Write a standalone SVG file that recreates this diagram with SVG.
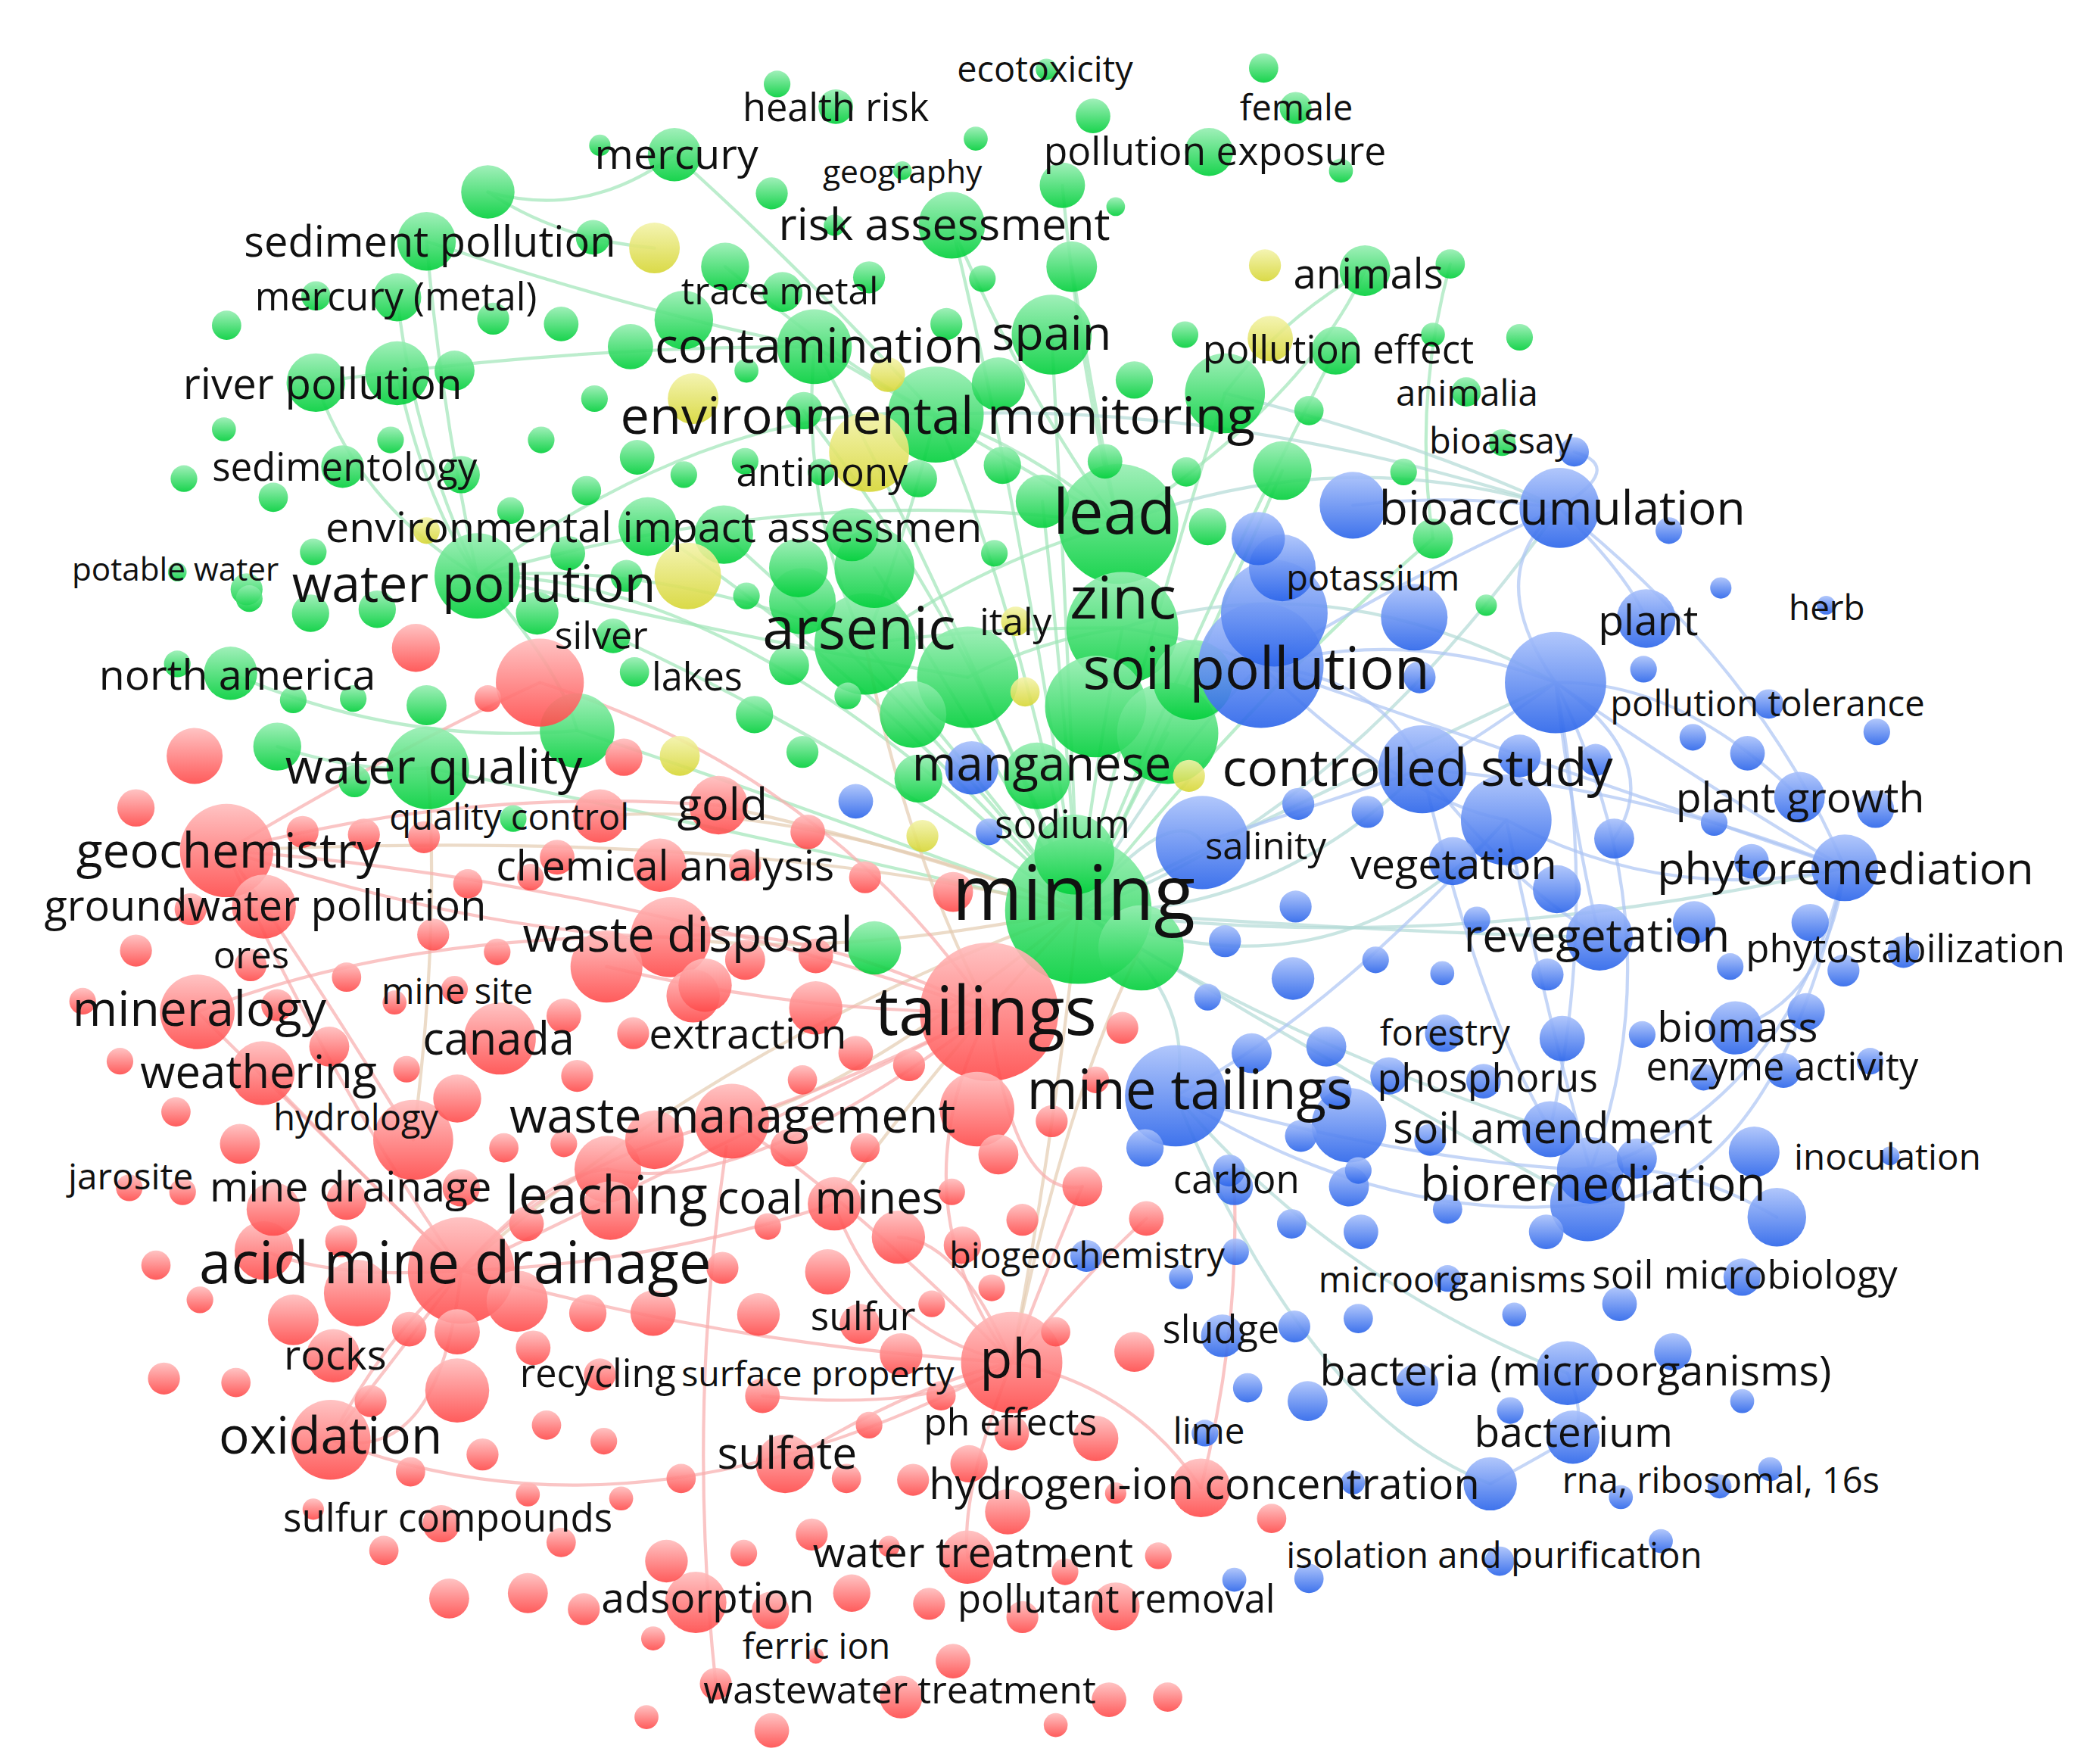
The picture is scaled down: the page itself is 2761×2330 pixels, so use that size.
<svg xmlns="http://www.w3.org/2000/svg" width="2761" height="2330" viewBox="0 0 2761 2330">
<defs>
<linearGradient id="gG" x1="0" y1="0" x2="0" y2="1"><stop offset="0" stop-color="#96eeb2"/><stop offset="1" stop-color="#00cf3a"/></linearGradient>
<linearGradient id="gR" x1="0" y1="0" x2="0" y2="1"><stop offset="0" stop-color="#ffbdbd"/><stop offset="1" stop-color="#ff4a4a"/></linearGradient>
<linearGradient id="gB" x1="0" y1="0" x2="0" y2="1"><stop offset="0" stop-color="#a9c1fb"/><stop offset="1" stop-color="#2a64ea"/></linearGradient>
<linearGradient id="gY" x1="0" y1="0" x2="0" y2="1"><stop offset="0" stop-color="#f3f3aa"/><stop offset="1" stop-color="#d6d634"/></linearGradient>
</defs>
<style>
.g circle{fill:url(#gG);fill-opacity:.9}
.r circle{fill:url(#gR);fill-opacity:.9}
.b circle{fill:url(#gB);fill-opacity:.9}
.y circle{fill:url(#gY);fill-opacity:.9}
#edges path{fill:none;stroke-width:2.4;stroke-opacity:.7;stroke-linecap:round}
.eg{stroke:#9fe6b8}.er{stroke:#f8acac}.eb{stroke:#adc4f4}.em{stroke:#b2dad6}.eo{stroke:#e4ccb0}
.t{font-family:"Open Sans","Noto Sans","DejaVu Sans",sans-serif;fill:#111;text-anchor:middle;dominant-baseline:middle}
</style>
<rect width="2761" height="2330" fill="#fff"/>
<g transform="scale(1.7609)">
<g id="edges">
<g class="eg">
<path d="M366,144 Q440,165 506,116"/><path d="M366,144 Q420,180 491,186"/><path d="M320,181 Q330,300 358,432"/><path d="M298,223 Q310,330 358,432"/><path d="M237,287 Q270,380 358,432"/><path d="M298,280 Q320,380 358,432"/><path d="M358,432 Q560,430 809,683"/><path d="M358,432 Q600,360 839,393"/><path d="M358,432 Q500,420 649,483"/><path d="M358,432 Q560,480 726,508"/><path d="M702,311 Q760,440 809,683"/><path d="M611,260 Q700,420 809,683"/><path d="M714,169 Q770,400 809,683"/><path d="M797,139 Q810,280 839,393"/><path d="M714,169 Q770,300 839,393"/><path d="M919,295 Q860,480 809,683"/><path d="M1024,203 Q960,240 919,295"/><path d="M1088,198 Q1060,300 1075,404"/><path d="M1075,404 Q940,520 809,683"/><path d="M649,483 Q740,590 809,683"/><path d="M842,471 Q820,580 809,683"/><path d="M433,548 Q620,610 809,683"/><path d="M173,505 Q300,560 433,548"/><path d="M486,395 Q650,500 809,683"/><path d="M543,401 Q690,530 809,683"/><path d="M603,308 Q730,470 809,683"/><path d="M962,353 Q890,520 809,683"/><path d="M544,200 Q640,280 702,311"/><path d="M506,116 Q600,200 702,311"/><path d="M702,311 Q780,340 839,393"/><path d="M611,260 Q730,330 839,393"/><path d="M321,576 Q540,620 809,683"/><path d="M460,477 Q640,560 809,683"/><path d="M782,376 Q800,540 809,683"/><path d="M656,426 Q740,560 809,683"/><path d="M358,432 Q420,500 433,548"/><path d="M208,560 Q270,580 321,576"/><path d="M237,287 Q420,260 611,260"/><path d="M839,393 Q980,300 1024,203"/><path d="M649,483 Q740,420 839,393"/><path d="M649,483 Q740,470 842,471"/><path d="M702,311 Q680,400 649,483"/><path d="M611,260 Q600,380 649,483"/><path d="M789,251 Q800,460 809,683"/><path d="M804,200 Q820,300 839,393"/><path d="M358,432 Q540,300 702,311"/><path d="M320,181 Q500,240 611,260"/><path d="M726,508 Q780,480 842,471"/><path d="M876,550 Q840,620 809,683"/><path d="M1002,263 Q900,460 809,683"/>
</g>
<g class="em">
<path d="M809,683 Q950,690 1067,577"/><path d="M809,683 Q1000,620 1170,381"/><path d="M809,683 Q1080,720 1384,651"/><path d="M809,683 Q960,780 1163,847"/><path d="M809,683 Q1000,590 1167,512"/><path d="M702,311 Q920,300 1170,381"/><path d="M839,393 Q1000,330 1170,381"/><path d="M946,499 Q880,560 809,683"/><path d="M842,471 Q1000,420 1167,512"/><path d="M809,683 Q900,740 882,822"/><path d="M882,822 Q1000,960 1176,1030"/><path d="M882,822 Q980,1060 1118,1113"/><path d="M809,683 Q1050,700 1200,703"/><path d="M919,295 Q1060,330 1170,381"/><path d="M809,683 Q880,600 902,632"/><path d="M842,471 Q900,480 946,499"/><path d="M809,683 Q1000,760 1130,615"/><path d="M809,683 Q1000,800 1191,903"/>
</g>
<g class="eo">
<path d="M809,683 Q620,720 503,703"/><path d="M809,683 Q700,640 539,604"/><path d="M809,683 Q790,860 759,1022"/><path d="M809,683 Q540,780 346,953"/><path d="M321,576 Q330,700 310,855"/><path d="M809,683 Q640,820 549,841"/><path d="M809,683 Q600,600 450,612"/><path d="M809,683 Q560,620 170,638"/><path d="M759,1022 Q800,820 856,711"/><path d="M649,483 Q680,640 742,759"/><path d="M809,683 Q700,800 626,903"/>
</g>
<g class="er">
<path d="M346,953 Q240,800 170,638"/><path d="M346,953 Q520,870 742,759"/><path d="M346,953 Q550,1010 759,1022"/><path d="M346,953 Q280,1040 248,1080"/><path d="M742,759 Q670,900 759,1022"/><path d="M742,759 Q600,690 503,703"/><path d="M742,759 Q640,810 549,841"/><path d="M742,759 Q460,660 170,638"/><path d="M170,638 Q350,590 539,604"/><path d="M170,638 Q360,700 503,703"/><path d="M248,1080 Q480,1170 759,1022"/><path d="M759,1022 Q850,1040 901,1116"/><path d="M759,1022 Q660,1000 626,903"/><path d="M759,1022 Q790,940 812,890"/><path d="M759,1022 Q720,930 674,928"/><path d="M759,1022 Q820,950 860,914"/><path d="M545,860 Q515,1060 537,1263"/><path d="M901,1116 Q930,1000 926,890"/><path d="M170,638 Q240,740 310,855"/><path d="M405,512 Q620,580 742,759"/><path d="M346,953 Q410,880 456,877"/><path d="M549,841 Q420,870 346,953"/><path d="M148,759 Q240,850 346,953"/><path d="M197,805 Q280,890 346,953"/><path d="M589,1098 Q680,1040 759,1022"/><path d="M248,1080 Q290,1000 346,953"/><path d="M405,512 Q300,560 170,638"/><path d="M346,953 Q250,960 198,938"/><path d="M346,953 Q480,950 626,903"/><path d="M759,1022 Q720,1120 726,1168"/><path d="M742,759 Q560,900 456,877"/><path d="M759,1022 Q700,1060 572,1047"/><path d="M148,759 Q300,700 503,703"/><path d="M742,759 Q760,900 812,890"/><path d="M346,953 Q330,1100 248,1080"/><path d="M742,759 Q600,760 455,725"/><path d="M549,841 Q640,900 759,1022"/>
</g>
<g class="eb">
<path d="M1167,512 Q1110,430 1170,381"/><path d="M1167,512 Q1280,590 1384,651"/><path d="M1170,381 Q1320,500 1384,651"/><path d="M1067,577 Q1230,590 1384,651"/><path d="M1167,512 Q1260,700 1193,878"/><path d="M1130,615 Q1160,760 1193,878"/><path d="M946,499 Q1060,470 1167,512"/><path d="M946,499 Q1120,560 1384,651"/><path d="M882,822 Q1000,760 1130,615"/><path d="M882,822 Q1050,870 1193,878"/><path d="M1170,381 Q1220,430 1235,464"/><path d="M1167,512 Q1260,510 1350,598"/><path d="M1384,651 Q1370,750 1302,771"/><path d="M1167,512 Q1200,680 1163,847"/><path d="M1176,1030 Q1190,1060 1180,1078"/><path d="M1118,1113 Q1160,1090 1180,1078"/><path d="M1170,381 Q1090,370 1015,379"/><path d="M946,499 Q1040,510 1067,577"/><path d="M1384,651 Q1340,830 1193,878"/><path d="M1067,577 Q1110,760 1163,847"/><path d="M1167,512 Q1250,570 1211,629"/><path d="M1333,913 Q1260,870 1193,878"/><path d="M1170,381 Q1220,350 1181,339"/><path d="M1167,512 Q1180,620 1200,703"/><path d="M1067,577 Q1130,660 1200,703"/><path d="M882,822 Q1040,920 1191,903"/><path d="M946,499 Q1060,430 1170,381"/><path d="M1130,615 Q1250,680 1384,651"/><path d="M1384,651 Q1330,900 1191,903"/><path d="M946,499 Q1050,600 1130,615"/><path d="M1067,577 Q1100,560 1167,512"/><path d="M902,632 Q1000,600 1067,577"/>
</g>
</g>
<g id="nodes">
<g class="g">
<g id="n-mining"><circle cx="809" cy="683" r="55"/></g>
<g id="n-lead"><circle cx="839" cy="393" r="45"/></g>
<g id="n-zinc"><circle cx="842" cy="471" r="42"/></g>
<g id="n-arsenic"><circle cx="649" cy="483" r="38"/></g>
<circle cx="726" cy="508" r="38"/><circle cx="822" cy="530" r="38"/><circle cx="876" cy="550" r="38"/>
<g id="n-environmental-monitoring"><circle cx="702" cy="311" r="36"/></g>
<g id="n-water-pollution"><circle cx="358" cy="432" r="32"/></g>
<g id="n-water-quality"><circle cx="321" cy="576" r="31"/></g>
<circle cx="856" cy="711" r="32"/><circle cx="806" cy="641" r="30"/><circle cx="919" cy="295" r="30"/>
<g id="n-spain"><circle cx="789" cy="251" r="30"/></g>
<circle cx="895" cy="510" r="30"/>
<g id="n-contamination"><circle cx="611" cy="260" r="28"/></g>
<circle cx="433" cy="548" r="28"/><circle cx="656" cy="426" r="30"/><circle cx="685" cy="536" r="25"/>
<g id="n-risk-assessment"><circle cx="714" cy="169" r="25"/></g>
<circle cx="602" cy="451" r="25"/><circle cx="778" cy="582" r="25"/><circle cx="298" cy="280" r="24"/>
<g id="n-river-pollution"><circle cx="237" cy="287" r="22"/></g>
<g id="n-sediment-pollution"><circle cx="320" cy="181" r="22"/></g>
<circle cx="513" cy="240" r="22"/>
<g id="n-environmental-impact-assessment"><circle cx="486" cy="395" r="22"/></g>
<circle cx="962" cy="353" r="22"/><circle cx="543" cy="401" r="22"/><circle cx="599" cy="426" r="22"/>
<g id="n-mercury"><circle cx="506" cy="116" r="20"/></g>
<circle cx="366" cy="144" r="20"/>
<g id="n-north-america"><circle cx="173" cy="505" r="20"/></g>
<circle cx="782" cy="376" r="20"/><circle cx="749" cy="288" r="20"/><circle cx="639" cy="401" r="20"/><circle cx="656" cy="711" r="20"/><circle cx="804" cy="200" r="19"/>
<g id="n-animals"><circle cx="1024" cy="203" r="19"/></g>
<circle cx="689" cy="584" r="18"/>
<g id="n-pollution-exposure"><circle cx="907" cy="114" r="18"/></g>
<g id="n-mercury-metal"><circle cx="298" cy="223" r="18"/></g>
<circle cx="208" cy="560" r="18"/><circle cx="544" cy="200" r="18"/>
<g id="n-pollution-effect"><circle cx="1002" cy="263" r="18"/></g>
<circle cx="797" cy="139" r="17"/><circle cx="473" cy="260" r="17"/>
<g id="n-trace-metal"><circle cx="587" cy="219" r="15"/></g>
<circle cx="341" cy="278" r="15"/><circle cx="320" cy="529" r="15"/><circle cx="592" cy="499" r="15"/><circle cx="1075" cy="404" r="15"/>
<g id="n-sedimentology"><circle cx="257" cy="350" r="16"/></g>
<circle cx="403" cy="460" r="16"/><circle cx="233" cy="460" r="14"/><circle cx="283" cy="457" r="14"/><circle cx="346" cy="356" r="14"/><circle cx="603" cy="308" r="14"/><circle cx="566" cy="536" r="14"/><circle cx="689" cy="359" r="14"/><circle cx="752" cy="349" r="14"/><circle cx="851" cy="285" r="14"/><circle cx="906" cy="395" r="14"/>
<g id="n-health-risk"><circle cx="627" cy="80" r="13"/></g>
<circle cx="820" cy="87" r="13"/><circle cx="421" cy="243" r="13"/><circle cx="445" cy="178" r="13"/><circle cx="478" cy="343" r="13"/><circle cx="426" cy="415" r="13"/>
<g id="n-silver"><circle cx="460" cy="477" r="13"/></g>
<circle cx="829" cy="346" r="13"/><circle cx="579" cy="145" r="12"/><circle cx="652" cy="208" r="12"/><circle cx="370" cy="239" r="12"/><circle cx="710" cy="243" r="12"/>
<g id="n-female"><circle cx="972" cy="81" r="12"/></g>
<circle cx="602" cy="564" r="12"/><circle cx="185" cy="442" r="12"/><circle cx="266" cy="586" r="12"/><circle cx="470" cy="432" r="12"/><circle cx="170" cy="244" r="11"/><circle cx="237" cy="222" r="11"/><circle cx="205" cy="373" r="11"/><circle cx="440" cy="368" r="11"/><circle cx="890" cy="354" r="11"/><circle cx="982" cy="308" r="11"/><circle cx="1088" cy="198" r="11"/>
<g id="n-animalia"><circle cx="1100" cy="294" r="11"/></g>
<circle cx="948" cy="51" r="11"/>
<g id="n-lakes"><circle cx="476" cy="504" r="11"/></g>
<circle cx="583" cy="63" r="10"/><circle cx="636" cy="522" r="10"/><circle cx="737" cy="209" r="10"/><circle cx="889" cy="251" r="10"/><circle cx="446" cy="299" r="10"/><circle cx="293" cy="330" r="10"/><circle cx="406" cy="330" r="10"/><circle cx="138" cy="359" r="10"/><circle cx="383" cy="383" r="10"/><circle cx="513" cy="356" r="10"/><circle cx="235" cy="414" r="10"/><circle cx="133" cy="498" r="10"/><circle cx="220" cy="525" r="10"/><circle cx="265" cy="524" r="10"/><circle cx="187" cy="449" r="10"/>
<g id="n-bioassay"><circle cx="1127" cy="332" r="10"/></g>
<circle cx="1140" cy="253" r="10"/><circle cx="1053" cy="354" r="10"/>
<g id="n-antimony"><circle cx="616" cy="354" r="10"/></g>
<g id="n-quality-control"><circle cx="385" cy="614" r="10"/></g>
<circle cx="560" cy="447" r="10"/><circle cx="560" cy="278" r="9"/><circle cx="559" cy="346" r="10"/><circle cx="746" cy="415" r="10"/><circle cx="168" cy="322" r="9"/><circle cx="450" cy="109" r="8"/><circle cx="732" cy="104" r="9"/><circle cx="1075" cy="251" r="9"/><circle cx="1006" cy="128" r="9"/><circle cx="1115" cy="454" r="8"/><circle cx="626" cy="169" r="8"/>
<g id="n-ecotoxicity"><circle cx="785" cy="52" r="8"/></g>
<circle cx="837" cy="155" r="7"/>
<g id="n-potable-water"><circle cx="133" cy="429" r="7"/></g>
<g id="n-geography"><circle cx="677" cy="128" r="7"/></g>
</g>
<g class="y">
<circle cx="652" cy="339" r="30"/><circle cx="516" cy="432" r="25"/><circle cx="491" cy="186" r="19"/><circle cx="520" cy="299" r="19"/><circle cx="953" cy="254" r="17"/><circle cx="666" cy="281" r="13"/><circle cx="510" cy="567" r="15"/><circle cx="949" cy="199" r="12"/>
<g id="n-italy"><circle cx="762" cy="466" r="11"/></g>
<circle cx="769" cy="519" r="11"/><circle cx="892" cy="582" r="12"/><circle cx="692" cy="627" r="12"/><circle cx="320" cy="398" r="10"/>
</g>
<g class="r">
<g id="n-tailings"><circle cx="742" cy="759" r="52"/></g>
<g id="n-acid-mine-drainage"><circle cx="346" cy="953" r="40"/></g>
<g id="n-ph"><circle cx="759" cy="1022" r="38"/></g>
<g id="n-geochemistry"><circle cx="170" cy="638" r="35"/></g>
<circle cx="405" cy="512" r="33"/>
<g id="n-waste-disposal"><circle cx="503" cy="703" r="30"/></g>
<g id="n-oxidation"><circle cx="248" cy="1080" r="30"/></g>
<circle cx="310" cy="855" r="30"/>
<g id="n-mineralogy"><circle cx="148" cy="759" r="28"/></g>
<g id="n-waste-management"><circle cx="549" cy="841" r="28"/></g>
<circle cx="733" cy="832" r="28"/>
<g id="n-canada"><circle cx="375" cy="779" r="27"/></g>
<circle cx="455" cy="725" r="27"/><circle cx="268" cy="970" r="25"/>
<g id="n-leaching"><circle cx="456" cy="877" r="25"/></g>
<g id="n-weathering"><circle cx="197" cy="805" r="24"/></g>
<circle cx="198" cy="680" r="24"/><circle cx="343" cy="1043" r="24"/><circle cx="388" cy="976" r="23"/>
<g id="n-adsorption"><circle cx="522" cy="1202" r="23"/></g>
<g id="n-gold"><circle cx="539" cy="604" r="22"/></g>
<circle cx="491" cy="855" r="22"/><circle cx="458" cy="908" r="22"/><circle cx="198" cy="938" r="22"/>
<g id="n-sulfate"><circle cx="589" cy="1098" r="22"/></g>
<g id="n-hydrogen-ion-concentration"><circle cx="901" cy="1116" r="22"/></g>
<circle cx="146" cy="567" r="21"/><circle cx="520" cy="747" r="20"/><circle cx="529" cy="739" r="20"/><circle cx="612" cy="756" r="20"/>
<g id="n-coal-mines"><circle cx="626" cy="903" r="20"/></g>
<circle cx="674" cy="928" r="20"/><circle cx="205" cy="907" r="20"/>
<g id="n-rocks"><circle cx="250" cy="1017" r="20"/></g>
<circle cx="450" cy="612" r="20"/><circle cx="495" cy="649" r="20"/>
<g id="n-water-treatment"><circle cx="726" cy="1168" r="20"/></g>
<circle cx="220" cy="990" r="19"/><circle cx="312" cy="486" r="18"/><circle cx="837" cy="1205" r="18"/><circle cx="343" cy="824" r="18"/><circle cx="822" cy="1079" r="17"/><circle cx="756" cy="1134" r="17"/><circle cx="490" cy="985" r="17"/><circle cx="343" cy="999" r="17"/><circle cx="621" cy="954" r="17"/><circle cx="676" cy="1016" r="16"/><circle cx="569" cy="986" r="16"/><circle cx="676" cy="1273" r="16"/><circle cx="500" cy="1171" r="16"/><circle cx="260" cy="900" r="15"/><circle cx="180" cy="858" r="15"/><circle cx="247" cy="785" r="15"/><circle cx="559" cy="720" r="15"/><circle cx="812" cy="890" r="15"/><circle cx="645" cy="993" r="15"/><circle cx="851" cy="1014" r="15"/><circle cx="749" cy="866" r="15"/><circle cx="337" cy="1199" r="15"/><circle cx="396" cy="1195" r="15"/><circle cx="715" cy="669" r="15"/><circle cx="346" cy="891" r="14"/><circle cx="468" cy="568" r="14"/><circle cx="102" cy="606" r="14"/><circle cx="441" cy="985" r="14"/><circle cx="592" cy="861" r="14"/><circle cx="722" cy="934" r="14"/><circle cx="727" cy="1098" r="14"/><circle cx="639" cy="1195" r="14"/><circle cx="578" cy="1208" r="14"/><circle cx="331" cy="1143" r="14"/><circle cx="418" cy="643" r="13"/><circle cx="423" cy="762" r="13"/><circle cx="606" cy="624" r="13"/><circle cx="612" cy="717" r="13"/><circle cx="642" cy="790" r="13"/><circle cx="860" cy="914" r="13"/><circle cx="395" cy="918" r="13"/><circle cx="307" cy="997" r="13"/><circle cx="400" cy="1011" r="13"/><circle cx="572" cy="1047" r="13"/><circle cx="759" cy="1075" r="13"/><circle cx="715" cy="1246" r="13"/><circle cx="832" cy="1275" r="13"/><circle cx="579" cy="1298" r="13"/><circle cx="227" cy="624" r="12"/><circle cx="273" cy="626" r="12"/><circle cx="318" cy="628" r="12"/><circle cx="325" cy="701" r="12"/><circle cx="143" cy="682" r="12"/><circle cx="102" cy="713" r="12"/>
<g id="n-ores"><circle cx="188" cy="724" r="12"/></g>
<circle cx="208" cy="754" r="12"/><circle cx="433" cy="807" r="12"/><circle cx="475" cy="775" r="12"/><circle cx="842" cy="771" r="12"/><circle cx="682" cy="799" r="12"/><circle cx="789" cy="841" r="12"/><circle cx="559" cy="649" r="12"/><circle cx="649" cy="658" r="12"/><circle cx="256" cy="931" r="12"/><circle cx="542" cy="951" r="12"/><circle cx="767" cy="915" r="12"/><circle cx="450" cy="1031" r="12"/><circle cx="123" cy="1034" r="12"/><circle cx="278" cy="1051" r="12"/><circle cx="362" cy="1091" r="12"/><circle cx="685" cy="1110" r="12"/><circle cx="609" cy="1151" r="12"/><circle cx="697" cy="1203" r="12"/><circle cx="767" cy="1213" r="12"/><circle cx="537" cy="1263" r="12"/><circle cx="438" cy="1207" r="12"/><circle cx="351" cy="663" r="11"/><circle cx="260" cy="733" r="11"/><circle cx="132" cy="834" r="11"/><circle cx="378" cy="861" r="11"/><circle cx="649" cy="861" r="11"/><circle cx="602" cy="810" r="11"/><circle cx="706" cy="1047" r="11"/><circle cx="635" cy="1109" r="11"/><circle cx="792" cy="999" r="11"/><circle cx="954" cy="1139" r="11"/><circle cx="117" cy="949" r="11"/><circle cx="177" cy="1037" r="11"/><circle cx="410" cy="1069" r="11"/><circle cx="308" cy="1104" r="11"/><circle cx="511" cy="1109" r="11"/><circle cx="288" cy="1163" r="11"/><circle cx="421" cy="1157" r="11"/><circle cx="876" cy="1273" r="11"/><circle cx="373" cy="714" r="10"/><circle cx="366" cy="524" r="10"/><circle cx="398" cy="658" r="10"/>
<g id="n-mine-site"><circle cx="341" cy="742" r="10"/></g>
<circle cx="62" cy="751" r="10"/><circle cx="90" cy="796" r="10"/><circle cx="305" cy="802" r="10"/><circle cx="423" cy="858" r="10"/><circle cx="714" cy="894" r="10"/><circle cx="822" cy="810" r="10"/>
<g id="n-jarosite"><circle cx="97" cy="891" r="10"/></g>
<circle cx="137" cy="894" r="10"/><circle cx="576" cy="920" r="10"/><circle cx="744" cy="966" r="10"/><circle cx="699" cy="978" r="10"/><circle cx="652" cy="1069" r="10"/><circle cx="453" cy="1081" r="10"/><circle cx="150" cy="975" r="10"/><circle cx="558" cy="1165" r="10"/><circle cx="799" cy="1179" r="10"/><circle cx="869" cy="1167" r="10"/><circle cx="296" cy="752" r="9"/><circle cx="396" cy="1121" r="9"/><circle cx="466" cy="1124" r="9"/><circle cx="490" cy="1229" r="9"/><circle cx="485" cy="1288" r="9"/><circle cx="792" cy="1294" r="9"/><circle cx="837" cy="1120" r="8"/><circle cx="667" cy="1160" r="8"/><circle cx="235" cy="1132" r="8"/>
<g id="n-ferric-ion"><circle cx="612" cy="1242" r="6"/></g>
</g>
<g class="b">
<g id="n-soil-pollution"><circle cx="946" cy="499" r="47"/></g>
<circle cx="956" cy="460" r="40"/><circle cx="1167" cy="512" r="38"/>
<g id="n-mine-tailings"><circle cx="882" cy="822" r="38"/></g>
<g id="n-salinity"><circle cx="902" cy="632" r="35"/></g>
<circle cx="1130" cy="615" r="34"/>
<g id="n-controlled-study"><circle cx="1067" cy="577" r="33"/></g>
<g id="n-bioaccumulation"><circle cx="1170" cy="381" r="30"/></g>
<g id="n-bioremediation"><circle cx="1191" cy="903" r="28"/></g>
<circle cx="1012" cy="844" r="28"/><circle cx="1015" cy="379" r="25"/><circle cx="962" cy="426" r="25"/><circle cx="1061" cy="463" r="25"/>
<g id="n-phytoremediation"><circle cx="1384" cy="651" r="25"/></g>
<g id="n-revegetation"><circle cx="1200" cy="703" r="25"/></g>
<circle cx="1193" cy="878" r="25"/>
<g id="n-bacteria-microorganisms"><circle cx="1176" cy="1030" r="24"/></g>
<g id="n-plant"><circle cx="1235" cy="464" r="22"/></g>
<circle cx="1333" cy="913" r="22"/>
<g id="n-soil-amendment"><circle cx="1163" cy="847" r="21"/></g>
<circle cx="944" cy="404" r="20"/>
<g id="n-manganese"><circle cx="729" cy="576" r="20"/></g>
<g id="n-biomass"><circle cx="1302" cy="771" r="20"/></g>
<g id="n-bacterium"><circle cx="1180" cy="1078" r="20"/></g>
<circle cx="1118" cy="1113" r="20"/>
<g id="n-plant-growth"><circle cx="1350" cy="598" r="19"/></g>
<circle cx="1316" cy="864" r="19"/>
<g id="n-vegetation"><circle cx="1090" cy="646" r="18"/></g>
<circle cx="1168" cy="667" r="18"/><circle cx="1172" cy="779" r="17"/><circle cx="1140" cy="567" r="16"/><circle cx="970" cy="734" r="16"/><circle cx="1271" cy="692" r="16"/>
<g id="n-sludge"><circle cx="917" cy="1002" r="16"/></g>
<circle cx="1063" cy="1039" r="16"/><circle cx="939" cy="790" r="15"/><circle cx="995" cy="785" r="15"/><circle cx="1211" cy="629" r="15"/><circle cx="1012" cy="890" r="15"/><circle cx="981" cy="1051" r="15"/><circle cx="1228" cy="869" r="15"/><circle cx="1407" cy="607" r="14"/><circle cx="1042" cy="807" r="14"/><circle cx="1358" cy="692" r="14"/><circle cx="1355" cy="759" r="14"/>
<g id="n-forestry"><circle cx="1083" cy="775" r="14"/></g>
<g id="n-carbon"><circle cx="926" cy="890" r="14"/></g>
<circle cx="859" cy="861" r="14"/>
<g id="n-soil-microbiology"><circle cx="1307" cy="958" r="14"/></g>
<circle cx="1255" cy="1014" r="14"/><circle cx="642" cy="601" r="13"/><circle cx="1311" cy="565" r="13"/><circle cx="1314" cy="646" r="13"/>
<g id="n-phosphorus"><circle cx="1113" cy="811" r="13"/></g>
<g id="n-enzyme-activity"><circle cx="1338" cy="803" r="13"/></g>
<circle cx="1160" cy="924" r="13"/><circle cx="1215" cy="978" r="13"/><circle cx="1021" cy="924" r="13"/><circle cx="974" cy="603" r="12"/><circle cx="1026" cy="609" r="12"/><circle cx="972" cy="680" r="12"/><circle cx="919" cy="706" r="12"/><circle cx="1002" cy="819" r="12"/><circle cx="976" cy="852" r="12"/><circle cx="922" cy="878" r="12"/><circle cx="1065" cy="508" r="12"/><circle cx="1197" cy="570" r="12"/><circle cx="1161" cy="731" r="12"/>
<g id="n-phytostabilization"><circle cx="1383" cy="728" r="12"/></g>
<circle cx="1428" cy="714" r="12"/><circle cx="1073" cy="855" r="12"/>
<g id="n-biogeochemistry"><circle cx="815" cy="942" r="12"/></g>
<circle cx="1019" cy="989" r="11"/><circle cx="971" cy="995" r="12"/>
<g id="n-pollution-tolerance"><circle cx="1327" cy="528" r="11"/></g>
<circle cx="1181" cy="339" r="11"/><circle cx="969" cy="918" r="11"/><circle cx="936" cy="1041" r="11"/><circle cx="1086" cy="907" r="11"/>
<g id="n-isolation-and-purification"><circle cx="1125" cy="1171" r="11"/></g>
<circle cx="982" cy="1184" r="11"/><circle cx="1252" cy="398" r="10"/><circle cx="1270" cy="553" r="10"/><circle cx="1408" cy="549" r="10"/><circle cx="1286" cy="617" r="10"/><circle cx="1108" cy="690" r="10"/><circle cx="1298" cy="725" r="10"/><circle cx="1032" cy="720" r="10"/><circle cx="906" cy="748" r="10"/><circle cx="1233" cy="502" r="10"/><circle cx="1232" cy="776" r="10"/><circle cx="1278" cy="808" r="10"/><circle cx="1403" cy="796" r="10"/>
<g id="n-microorganisms"><circle cx="1086" cy="959" r="10"/></g>
<circle cx="927" cy="939" r="10"/><circle cx="1019" cy="878" r="10"/>
<g id="n-lime"><circle cx="904" cy="1075" r="10"/></g>
<circle cx="1133" cy="1058" r="10"/>
<g id="n-sodium"><circle cx="742" cy="624" r="10"/></g>
<circle cx="1082" cy="730" r="9"/><circle cx="886" cy="958" r="9"/><circle cx="1136" cy="986" r="9"/><circle cx="1307" cy="1051" r="9"/>
<g id="n-rna-ribosomal-16s"><circle cx="1216" cy="1123" r="9"/></g>
<circle cx="1290" cy="1115" r="9"/><circle cx="1328" cy="1102" r="9"/><circle cx="1246" cy="1156" r="9"/><circle cx="1015" cy="1112" r="9"/><circle cx="926" cy="1185" r="9"/><circle cx="1291" cy="441" r="8"/>
<g id="n-herb"><circle cx="1370" cy="454" r="7"/></g>
<g id="n-inoculation"><circle cx="1418" cy="867" r="7"/></g>
</g>
</g>
<g id="labels" transform="translate(0,3)">
<text class="t" x="784" y="51" font-size="26.6">ecotoxicity</text>
<text class="t" x="627" y="80" font-size="28.7">health risk</text>
<text class="t" x="972.5" y="80" font-size="26.6">female</text>
<text class="t" x="507.5" y="115" font-size="31.5">mercury</text>
<text class="t" x="677" y="128" font-size="24.2">geography</text>
<text class="t" x="911.5" y="113" font-size="29.3">pollution exposure</text>
<text class="t" x="708.5" y="168" font-size="33.6">risk assessment</text>
<text class="t" x="322.5" y="181" font-size="31.8">sediment pollution</text>
<text class="t" x="1026.5" y="205" font-size="31">animals</text>
<text class="t" x="297" y="222" font-size="28.6">mercury (metal)</text>
<text class="t" x="585" y="218" font-size="28.1">trace metal</text>
<text class="t" x="614.5" y="259" font-size="36.4">contamination</text>
<text class="t" x="789" y="250" font-size="35.8">spain</text>
<text class="t" x="1004" y="262" font-size="28.9">pollution effect</text>
<text class="t" x="242" y="288" font-size="32">river pollution</text>
<text class="t" x="1100.5" y="294" font-size="26.9">animalia</text>
<text class="t" x="703.5" y="312" font-size="38.9">environmental monitoring</text>
<text class="t" x="1126" y="330" font-size="26.7">bioassay</text>
<text class="t" x="258.5" y="350" font-size="29">sedimentology</text>
<text class="t" x="616.5" y="354" font-size="29.1">antimony</text>
<text class="t" x="836" y="385" font-size="46.4">lead</text>
<text class="t" x="1172" y="381" font-size="35.4">bioaccumulation</text>
<text class="t" x="490.5" y="395" font-size="31.5">environmental impact assessmen</text>
<text class="t" x="131.5" y="426" font-size="24">potable water</text>
<text class="t" x="1030" y="433" font-size="26.7">potassium</text>
<text class="t" x="355.5" y="438" font-size="38.6">water pollution</text>
<text class="t" x="842.5" y="449" font-size="44">zinc</text>
<text class="t" x="1370.5" y="455" font-size="26">herb</text>
<text class="t" x="1236.5" y="465" font-size="31.4">plant</text>
<text class="t" x="644.5" y="472" font-size="43.3">arsenic</text>
<text class="t" x="762" y="466" font-size="28.2">italy</text>
<text class="t" x="451" y="476" font-size="28.5">silver</text>
<text class="t" x="178" y="506" font-size="31.5">north america</text>
<text class="t" x="523" y="507" font-size="28.7">lakes</text>
<text class="t" x="942.5" y="502" font-size="43.4">soil pollution</text>
<text class="t" x="1326" y="527" font-size="26.8">pollution tolerance</text>
<text class="t" x="325.5" y="575" font-size="36.8">water quality</text>
<text class="t" x="781.5" y="573" font-size="36">manganese</text>
<text class="t" x="1063.5" y="576" font-size="38.8">controlled study</text>
<text class="t" x="1350.5" y="598" font-size="31.4">plant growth</text>
<text class="t" x="542" y="603" font-size="33.7">gold</text>
<text class="t" x="382" y="612" font-size="26.8">quality control</text>
<text class="t" x="797" y="618" font-size="29.2">sodium</text>
<text class="t" x="171.5" y="638" font-size="36.4">geochemistry</text>
<text class="t" x="949.5" y="634" font-size="27.9">salinity</text>
<text class="t" x="499" y="649" font-size="31.5">chemical analysis</text>
<text class="t" x="1090.5" y="648" font-size="31.6">vegetation</text>
<text class="t" x="1384.5" y="651" font-size="33.7">phytoremediation</text>
<text class="t" x="805.5" y="672" font-size="57">mining</text>
<text class="t" x="199" y="679" font-size="31.7">groundwater pollution</text>
<text class="t" x="516" y="701" font-size="36.3">waste disposal</text>
<text class="t" x="1198" y="702" font-size="34">revegetation</text>
<text class="t" x="1429.5" y="711" font-size="28.9">phytostabilization</text>
<text class="t" x="188.5" y="716" font-size="27.8">ores</text>
<text class="t" x="343" y="743" font-size="26.7">mine site</text>
<text class="t" x="149.5" y="757" font-size="36.5">mineralogy</text>
<text class="t" x="739.5" y="760" font-size="50.5">tailings</text>
<text class="t" x="374" y="779" font-size="33.8">canada</text>
<text class="t" x="561" y="775" font-size="31.5">extraction</text>
<text class="t" x="1084" y="774" font-size="26.8">forestry</text>
<text class="t" x="1303.5" y="770" font-size="30.9">biomass</text>
<text class="t" x="194" y="804" font-size="33.9">weathering</text>
<text class="t" x="1116" y="808" font-size="29.4">phosphorus</text>
<text class="t" x="1337" y="800" font-size="28.6">enzyme activity</text>
<text class="t" x="892.5" y="818" font-size="41.3">mine tailings</text>
<text class="t" x="267" y="838" font-size="26.7">hydrology</text>
<text class="t" x="549.5" y="837" font-size="36.4">waste management</text>
<text class="t" x="1165" y="846" font-size="31.7">soil amendment</text>
<text class="t" x="1416" y="867" font-size="27">inoculation</text>
<text class="t" x="98" y="882" font-size="27.1">jarosite</text>
<text class="t" x="263" y="890" font-size="31.5">mine drainage</text>
<text class="t" x="455" y="897" font-size="39.2">leaching</text>
<text class="t" x="623" y="898" font-size="34.1">coal mines</text>
<text class="t" x="927.5" y="884" font-size="29">carbon</text>
<text class="t" x="1195" y="888" font-size="36.2">bioremediation</text>
<text class="t" x="341.5" y="948" font-size="43.3">acid mine drainage</text>
<text class="t" x="815.5" y="941" font-size="26.7">biogeochemistry</text>
<text class="t" x="1089.5" y="959" font-size="26.7">microorganisms</text>
<text class="t" x="1309" y="956" font-size="29.1">soil microbiology</text>
<text class="t" x="647.5" y="987" font-size="29.2">sulfur</text>
<text class="t" x="916" y="997" font-size="28.7">sludge</text>
<text class="t" x="251.5" y="1016" font-size="30.9">rocks</text>
<text class="t" x="448.5" y="1030" font-size="28.6">recycling</text>
<text class="t" x="613.5" y="1030" font-size="26.4">surface property</text>
<text class="t" x="759.5" y="1020" font-size="40">ph</text>
<text class="t" x="1182" y="1028" font-size="31.6">bacteria (microorganisms)</text>
<text class="t" x="758" y="1066" font-size="28.3">ph effects</text>
<text class="t" x="248" y="1077" font-size="38.4">oxidation</text>
<text class="t" x="907" y="1073" font-size="27">lime</text>
<text class="t" x="1180.5" y="1074" font-size="31.3">bacterium</text>
<text class="t" x="590.5" y="1090" font-size="33.3">sulfate</text>
<text class="t" x="903.5" y="1113" font-size="31.8">hydrogen-ion concentration</text>
<text class="t" x="1291" y="1110" font-size="26.7">rna, ribosomal, 16s</text>
<text class="t" x="336" y="1138" font-size="29.1">sulfur compounds</text>
<text class="t" x="730" y="1164" font-size="31.6">water treatment</text>
<text class="t" x="1121" y="1166" font-size="26.9">isolation and purification</text>
<text class="t" x="531" y="1198" font-size="31.4">adsorption</text>
<text class="t" x="837.5" y="1199" font-size="28.8">pollutant removal</text>
<text class="t" x="612.5" y="1234" font-size="26.6">ferric ion</text>
<text class="t" x="675" y="1267" font-size="28.5">wastewater treatment</text>
</g>
</g>
</svg>
